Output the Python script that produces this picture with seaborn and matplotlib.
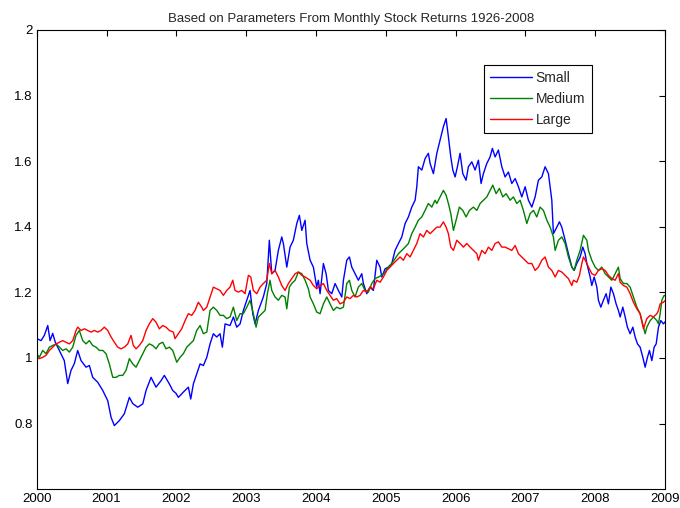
import numpy as np
import pandas as pd
import matplotlib
matplotlib.use('Agg')
import matplotlib.pyplot as plt
import seaborn as sns

title = 'Based on Parameters From Monthly Stock Returns 1926-2008'
series_names = ['Small', 'Medium', 'Large']
year_ticks = list(range(2000, 2010))
value_ticks = [0.8, 1.0, 1.2, 1.4, 1.6, 1.8, 2.0]

# values (year, cumulative value)
small_t = [2000.000, 2000.062, 2000.109, 2000.158, 2000.191, 2000.229, 2000.266, 2000.324, 2000.395, 2000.444,
           2000.491, 2000.539, 2000.587, 2000.635, 2000.706, 2000.754, 2000.802, 2000.874, 2000.946, 2001.017,
           2001.065, 2001.112, 2001.183, 2001.255, 2001.327, 2001.375, 2001.447, 2001.519, 2001.566, 2001.638,
           2001.709, 2001.781, 2001.828, 2001.900, 2001.948, 2001.996, 2002.029, 2002.100, 2002.172, 2002.206,
           2002.244, 2002.292, 2002.340, 2002.387, 2002.436, 2002.483, 2002.530, 2002.579, 2002.626, 2002.659,
           2002.698, 2002.769, 2002.817, 2002.865, 2002.913, 2002.960, 2003.009, 2003.056, 2003.095, 2003.128,
           2003.175, 2003.246, 2003.295, 2003.332, 2003.367, 2003.414, 2003.461, 2003.510, 2003.533, 2003.582,
           2003.629, 2003.676, 2003.725, 2003.762, 2003.797, 2003.844, 2003.868, 2003.916, 2003.963, 2004.011,
           2004.034, 2004.059, 2004.106, 2004.145, 2004.178, 2004.226, 2004.274, 2004.321, 2004.370, 2004.393,
           2004.441, 2004.479, 2004.513, 2004.560, 2004.607, 2004.656, 2004.679, 2004.728, 2004.775, 2004.822,
           2004.871, 2004.918, 2004.943, 2004.990, 2005.037, 2005.086, 2005.133, 2005.181, 2005.229, 2005.277,
           2005.324, 2005.372, 2005.420, 2005.444, 2005.467, 2005.516, 2005.563, 2005.610, 2005.635, 2005.682,
           2005.731, 2005.778, 2005.825, 2005.864, 2005.897, 2005.931, 2005.960, 2005.993, 2006.026, 2006.064,
           2006.103, 2006.150, 2006.183, 2006.232, 2006.279, 2006.327, 2006.365, 2006.398, 2006.447, 2006.494,
           2006.527, 2006.566, 2006.613, 2006.662, 2006.709, 2006.756, 2006.805, 2006.853, 2006.900, 2006.948,
           2006.996, 2007.043, 2007.092, 2007.139, 2007.186, 2007.235, 2007.282, 2007.330, 2007.378, 2007.401,
           2007.450, 2007.487, 2007.521, 2007.569, 2007.616, 2007.665, 2007.698, 2007.736, 2007.784, 2007.822,
           2007.855, 2007.880, 2007.927, 2007.951, 2007.985, 2008.023, 2008.046, 2008.080, 2008.117, 2008.156,
           2008.189, 2008.224, 2008.261, 2008.299, 2008.332, 2008.357, 2008.395, 2008.429, 2008.461, 2008.500,
           2008.539, 2008.572, 2008.605, 2008.643, 2008.682, 2008.715, 2008.748, 2008.777, 2008.811, 2008.844,
           2008.873, 2008.906, 2008.940, 2008.977, 2009.000]
small_v = [1.059, 1.053, 1.069, 1.099, 1.053, 1.075, 1.048, 1.023, 0.992, 0.922,
           0.962, 0.983, 1.023, 0.992, 0.972, 0.977, 0.941, 0.926, 0.901, 0.870,
           0.819, 0.794, 0.809, 0.830, 0.880, 0.861, 0.850, 0.860, 0.901, 0.941,
           0.911, 0.931, 0.947, 0.921, 0.901, 0.892, 0.880, 0.896, 0.911, 0.875,
           0.921, 0.952, 0.982, 0.977, 1.002, 1.043, 1.074, 1.064, 1.074, 1.033,
           1.104, 1.099, 1.125, 1.094, 1.104, 1.145, 1.176, 1.206, 1.135, 1.104,
           1.145, 1.186, 1.227, 1.359, 1.257, 1.267, 1.328, 1.369, 1.349, 1.277,
           1.338, 1.359, 1.410, 1.435, 1.389, 1.420, 1.349, 1.298, 1.277, 1.216,
           1.237, 1.196, 1.288, 1.257, 1.206, 1.196, 1.227, 1.206, 1.186, 1.237,
           1.298, 1.308, 1.277, 1.257, 1.237, 1.257, 1.227, 1.196, 1.216, 1.206,
           1.298, 1.277, 1.247, 1.272, 1.277, 1.288, 1.328, 1.349, 1.369, 1.410,
           1.430, 1.460, 1.481, 1.522, 1.583, 1.573, 1.608, 1.624, 1.593, 1.562,
           1.624, 1.664, 1.705, 1.730, 1.674, 1.613, 1.573, 1.552, 1.583, 1.624,
           1.562, 1.542, 1.583, 1.598, 1.573, 1.603, 1.532, 1.562, 1.593, 1.613,
           1.639, 1.613, 1.634, 1.583, 1.552, 1.567, 1.532, 1.547, 1.522, 1.491,
           1.522, 1.481, 1.460, 1.491, 1.542, 1.552, 1.583, 1.562, 1.481, 1.379,
           1.399, 1.415, 1.399, 1.359, 1.318, 1.277, 1.267, 1.288, 1.308, 1.338,
           1.318, 1.288, 1.247, 1.221, 1.247, 1.216, 1.176, 1.155, 1.176, 1.196,
           1.165, 1.216, 1.196, 1.165, 1.145, 1.125, 1.155, 1.125, 1.094, 1.074,
           1.094, 1.064, 1.043, 1.033, 1.002, 0.972, 1.002, 1.023, 0.992, 1.033,
           1.043, 1.094, 1.114, 1.104, 1.110]

medium_t = [2000.000, 2000.037, 2000.086, 2000.133, 2000.181, 2000.229, 2000.277, 2000.324, 2000.372, 2000.420,
            2000.467, 2000.516, 2000.563, 2000.610, 2000.659, 2000.706, 2000.754, 2000.802, 2000.850, 2000.897,
            2000.946, 2000.993, 2001.040, 2001.089, 2001.136, 2001.183, 2001.232, 2001.279, 2001.327, 2001.375,
            2001.423, 2001.470, 2001.519, 2001.566, 2001.613, 2001.662, 2001.709, 2001.756, 2001.805, 2001.852,
            2001.900, 2001.948, 2002.006, 2002.053, 2002.100, 2002.149, 2002.196, 2002.244, 2002.292, 2002.340,
            2002.387, 2002.436, 2002.483, 2002.530, 2002.579, 2002.626, 2002.673, 2002.722, 2002.769, 2002.817,
            2002.865, 2002.913, 2002.960, 2003.009, 2003.056, 2003.103, 2003.142, 2003.175, 2003.224, 2003.271,
            2003.304, 2003.342, 2003.367, 2003.414, 2003.461, 2003.510, 2003.557, 2003.582, 2003.619, 2003.653,
            2003.701, 2003.748, 2003.797, 2003.844, 2003.891, 2003.916, 2003.963, 2004.011, 2004.059, 2004.106,
            2004.155, 2004.202, 2004.249, 2004.298, 2004.345, 2004.393, 2004.441, 2004.479, 2004.513, 2004.560,
            2004.607, 2004.656, 2004.703, 2004.751, 2004.799, 2004.847, 2004.894, 2004.943, 2004.990, 2005.037,
            2005.086, 2005.133, 2005.181, 2005.229, 2005.277, 2005.324, 2005.372, 2005.420, 2005.467, 2005.516,
            2005.563, 2005.610, 2005.659, 2005.706, 2005.731, 2005.778, 2005.825, 2005.864, 2005.897, 2005.931,
            2005.969, 2006.007, 2006.054, 2006.103, 2006.150, 2006.198, 2006.255, 2006.304, 2006.351, 2006.398,
            2006.447, 2006.494, 2006.533, 2006.580, 2006.628, 2006.676, 2006.724, 2006.781, 2006.828, 2006.877,
            2006.924, 2006.971, 2007.020, 2007.067, 2007.115, 2007.163, 2007.210, 2007.258, 2007.307, 2007.354,
            2007.401, 2007.426, 2007.473, 2007.521, 2007.569, 2007.616, 2007.665, 2007.698, 2007.736, 2007.784,
            2007.831, 2007.880, 2007.903, 2007.951, 2007.999, 2008.046, 2008.095, 2008.142, 2008.189, 2008.238,
            2008.285, 2008.332, 2008.357, 2008.404, 2008.453, 2008.500, 2008.547, 2008.596, 2008.643, 2008.668,
            2008.691, 2008.715, 2008.739, 2008.787, 2008.834, 2008.883, 2008.906, 2008.930, 2008.954, 2008.987,
            2009.000]
medium_v = [1.013, 1.002, 1.023, 1.013, 1.033, 1.038, 1.043, 1.033, 1.023, 1.028,
            1.018, 1.033, 1.069, 1.084, 1.053, 1.043, 1.053, 1.038, 1.033, 1.023,
            1.023, 1.013, 0.982, 0.941, 0.941, 0.947, 0.947, 0.962, 0.998, 0.982,
            0.972, 0.992, 1.013, 1.033, 1.043, 1.038, 1.028, 1.043, 1.048, 1.028,
            1.033, 1.023, 0.987, 1.002, 1.013, 1.033, 1.043, 1.053, 1.084, 1.099,
            1.074, 1.079, 1.145, 1.155, 1.145, 1.130, 1.130, 1.120, 1.125, 1.155,
            1.114, 1.135, 1.135, 1.155, 1.176, 1.135, 1.094, 1.125, 1.135, 1.145,
            1.196, 1.237, 1.206, 1.186, 1.176, 1.191, 1.186, 1.150, 1.216, 1.227,
            1.237, 1.262, 1.257, 1.237, 1.211, 1.186, 1.165, 1.140, 1.135, 1.165,
            1.186, 1.165, 1.145, 1.155, 1.150, 1.155, 1.227, 1.237, 1.206, 1.186,
            1.216, 1.227, 1.206, 1.201, 1.227, 1.242, 1.247, 1.252, 1.262, 1.277,
            1.288, 1.303, 1.318, 1.328, 1.338, 1.349, 1.379, 1.399, 1.420, 1.430,
            1.450, 1.471, 1.460, 1.481, 1.471, 1.491, 1.511, 1.496, 1.471, 1.440,
            1.389, 1.420, 1.460, 1.450, 1.430, 1.450, 1.460, 1.450, 1.471, 1.481,
            1.491, 1.511, 1.527, 1.501, 1.517, 1.491, 1.501, 1.481, 1.491, 1.471,
            1.481, 1.450, 1.410, 1.440, 1.450, 1.430, 1.460, 1.450, 1.420, 1.399,
            1.369, 1.328, 1.359, 1.369, 1.349, 1.308, 1.277, 1.267, 1.298, 1.328,
            1.374, 1.359, 1.328, 1.298, 1.277, 1.267, 1.277, 1.257, 1.247, 1.237,
            1.257, 1.277, 1.242, 1.227, 1.227, 1.216, 1.186, 1.155, 1.135, 1.114,
            1.094, 1.074, 1.094, 1.114, 1.125, 1.114, 1.104, 1.135, 1.176, 1.191,
            1.190]

large_t = [2000.000, 2000.037, 2000.086, 2000.133, 2000.181, 2000.229, 2000.277, 2000.324, 2000.372, 2000.420,
           2000.467, 2000.516, 2000.563, 2000.587, 2000.635, 2000.682, 2000.731, 2000.778, 2000.825, 2000.874,
           2000.921, 2000.968, 2001.017, 2001.065, 2001.112, 2001.160, 2001.208, 2001.255, 2001.304, 2001.351,
           2001.384, 2001.423, 2001.470, 2001.519, 2001.566, 2001.613, 2001.662, 2001.709, 2001.756, 2001.805,
           2001.852, 2001.900, 2001.957, 2001.981, 2002.029, 2002.077, 2002.125, 2002.172, 2002.221, 2002.268,
           2002.315, 2002.364, 2002.387, 2002.436, 2002.483, 2002.530, 2002.579, 2002.626, 2002.673, 2002.722,
           2002.769, 2002.808, 2002.841, 2002.888, 2002.937, 2002.984, 2003.032, 2003.066, 2003.103, 2003.152,
           2003.199, 2003.246, 2003.295, 2003.332, 2003.367, 2003.414, 2003.461, 2003.510, 2003.557, 2003.605,
           2003.653, 2003.701, 2003.748, 2003.797, 2003.844, 2003.916, 2003.963, 2004.011, 2004.059, 2004.106,
           2004.155, 2004.202, 2004.249, 2004.298, 2004.345, 2004.393, 2004.441, 2004.489, 2004.536, 2004.585,
           2004.632, 2004.679, 2004.728, 2004.775, 2004.822, 2004.871, 2004.918, 2004.966, 2005.014, 2005.061,
           2005.109, 2005.158, 2005.205, 2005.252, 2005.301, 2005.348, 2005.395, 2005.444, 2005.491, 2005.539,
           2005.587, 2005.635, 2005.682, 2005.731, 2005.778, 2005.825, 2005.864, 2005.897, 2005.931, 2005.969,
           2006.017, 2006.064, 2006.112, 2006.160, 2006.208, 2006.255, 2006.304, 2006.327, 2006.375, 2006.423,
           2006.470, 2006.519, 2006.566, 2006.613, 2006.662, 2006.709, 2006.756, 2006.805, 2006.853, 2006.900,
           2006.948, 2006.996, 2007.043, 2007.092, 2007.139, 2007.186, 2007.235, 2007.282, 2007.330, 2007.378,
           2007.426, 2007.473, 2007.521, 2007.569, 2007.616, 2007.665, 2007.688, 2007.736, 2007.774, 2007.808,
           2007.831, 2007.870, 2007.903, 2007.951, 2007.999, 2008.046, 2008.095, 2008.142, 2008.189, 2008.238,
           2008.285, 2008.332, 2008.357, 2008.404, 2008.453, 2008.500, 2008.547, 2008.596, 2008.643, 2008.691,
           2008.715, 2008.739, 2008.787, 2008.834, 2008.883, 2008.906, 2008.930, 2008.977, 2009.000]
large_v = [1.002, 0.998, 1.002, 1.008, 1.023, 1.033, 1.043, 1.048, 1.053, 1.048,
           1.043, 1.053, 1.084, 1.094, 1.084, 1.089, 1.084, 1.079, 1.084, 1.079,
           1.084, 1.094, 1.084, 1.064, 1.048, 1.033, 1.028, 1.033, 1.043, 1.069,
           1.038, 1.028, 1.038, 1.053, 1.084, 1.104, 1.120, 1.109, 1.089, 1.099,
           1.094, 1.084, 1.079, 1.059, 1.074, 1.089, 1.114, 1.135, 1.130, 1.145,
           1.170, 1.155, 1.145, 1.155, 1.186, 1.216, 1.211, 1.206, 1.191, 1.206,
           1.216, 1.237, 1.206, 1.201, 1.206, 1.196, 1.252, 1.247, 1.206, 1.196,
           1.216, 1.227, 1.237, 1.288, 1.257, 1.267, 1.247, 1.221, 1.206, 1.227,
           1.242, 1.257, 1.262, 1.252, 1.247, 1.237, 1.221, 1.211, 1.221, 1.227,
           1.206, 1.191, 1.176, 1.181, 1.165, 1.170, 1.186, 1.181, 1.191, 1.186,
           1.191, 1.206, 1.201, 1.216, 1.211, 1.237, 1.231, 1.247, 1.267, 1.277,
           1.288, 1.298, 1.308, 1.298, 1.318, 1.308, 1.328, 1.349, 1.379, 1.369,
           1.389, 1.379, 1.389, 1.399, 1.399, 1.415, 1.399, 1.379, 1.338, 1.328,
           1.359, 1.349, 1.338, 1.349, 1.338, 1.328, 1.318, 1.298, 1.328, 1.318,
           1.338, 1.328, 1.349, 1.354, 1.338, 1.338, 1.333, 1.328, 1.343, 1.318,
           1.308, 1.298, 1.288, 1.288, 1.267, 1.277, 1.298, 1.308, 1.277, 1.267,
           1.247, 1.267, 1.262, 1.252, 1.242, 1.221, 1.237, 1.231, 1.252, 1.288,
           1.308, 1.293, 1.277, 1.257, 1.252, 1.267, 1.272, 1.267, 1.252, 1.242,
           1.237, 1.257, 1.231, 1.221, 1.216, 1.196, 1.170, 1.150, 1.135, 1.089,
           1.104, 1.120, 1.130, 1.125, 1.135, 1.145, 1.165, 1.170, 1.175]

frames = []
for name, t, v in zip(series_names, [small_t, medium_t, large_t], [small_v, medium_v, large_v]):
    frames.append(pd.DataFrame({'year': t, 'value': v, 'size': name}))
df = pd.concat(frames, ignore_index=True)

sns.set_style('white')
plt.rcParams['font.family'] = ['Liberation Sans', 'DejaVu Sans']

fig = plt.figure(figsize=(6.8, 5.08), dpi=100)
ax = fig.add_axes([0.054, 0.037, 0.924, 0.904])

palette = {'Small': '#0000ff', 'Medium': '#008000', 'Large': '#ff0000'}
sns.lineplot(data=df, x='year', y='value', hue='size', hue_order=series_names,
             palette=palette, estimator=None, sort=False, linewidth=1.0, ax=ax)

ax.set_xlim(2000, 2009)
ax.set_ylim(0.6, 2.0)
ax.set_xticks(year_ticks)
ax.set_xticklabels([str(y) for y in year_ticks])
ax.set_yticks(value_ticks)
ax.set_yticklabels([f'{v:g}' for v in value_ticks])
ax.set_xlabel('')
ax.set_ylabel('')
ax.set_title(title, fontsize=9.5, pad=6)
ax.tick_params(direction='in', length=4, width=0.8, labelsize=9.5, colors='black',
               top=True, right=True, pad=3)
for sp in ax.spines.values():
    sp.set_color('black')
    sp.set_linewidth(0.8)

leg = ax.legend(loc='upper right', bbox_to_anchor=(0.883, 0.924), borderaxespad=0,
                fontsize=10, handlelength=3.0, handletextpad=0.3, frameon=True,
                fancybox=False, edgecolor='black', framealpha=1, borderpad=0.45,
                labelspacing=0.5)
leg.get_frame().set_linewidth(0.8)

fig.savefig('out.png', dpi=100)
